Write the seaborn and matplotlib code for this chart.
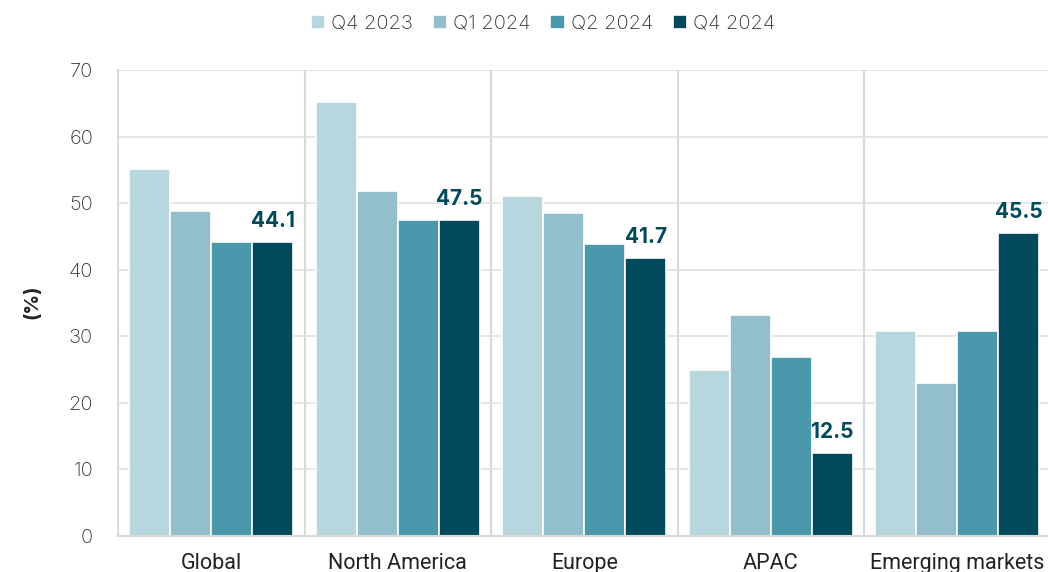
import matplotlib
matplotlib.use("Agg")
import matplotlib.pyplot as plt
import pandas as pd
import seaborn as sns
from matplotlib.font_manager import fontManager

regions = ["Global", "North America", "Europe", "APAC", "Emerging markets"]
quarters = ["Q4 2023", "Q1 2024", "Q2 2024", "Q4 2024"]
q4_2023 = [55.1, 65.2, 51.1, 24.9, 30.8]
q1_2024 = [48.8, 51.8, 48.5, 33.2, 23.0]
q2_2024 = [44.2, 47.5, 43.9, 26.9, 30.8]
q4_2024 = [44.1, 47.5, 41.7, 12.5, 45.5]
palette = ["#b8d6de", "#93bfcc", "#4b97ab", "#024a5b"]

rows = []
for quarter, values in zip(quarters, [q4_2023, q1_2024, q2_2024, q4_2024]):
    for region, value in zip(regions, values):
        rows.append({"region": region, "quarter": quarter, "value": value})
frame = pd.DataFrame(rows)

sns.set_theme(style="white")
plt.rcParams["font.family"] = ["Inter", "DejaVu Sans"]

names = {f.name for f in fontManager.ttflist}
narrow = "Liberation Sans Narrow" if "Liberation Sans Narrow" in names else "Roboto"

fig = plt.figure(figsize=(10.48, 5.72), dpi=100)
ax = fig.add_axes([0.1126, 0.0629, 0.8898, 0.8147])

ax.yaxis.grid(True, color="#e0e0e0", linewidth=1.2)
ax.set_axisbelow(True)
for x in range(len(regions) - 1):
    ax.axvline(x + 0.5, color="#d9d9d9", linewidth=1.5, zorder=0)

sns.barplot(
    data=frame,
    x="region",
    y="value",
    hue="quarter",
    palette=palette,
    width=0.88,
    edgecolor="white",
    linewidth=1.2,
    saturation=1,
    ax=ax,
)

ax.set_xlim(-0.5, 4.5)
ax.set_ylim(0, 70)
ax.set_yticks(range(0, 71, 10))
ax.set_xlabel("")
ax.set_ylabel("")
fig.text(0.031, 0.472, "(%)", rotation=90, ha="center", va="center",
         fontsize=14, fontweight="bold", color="#222222")
ax.tick_params(axis="y", labelsize=14.5, labelcolor="#333333", pad=18, length=0)
ax.tick_params(axis="x", labelsize=15.5, labelcolor="#222222", pad=12, length=0)
for label in ax.get_xticklabels():
    label.set_fontfamily(narrow)
for label in ax.get_yticklabels():
    label.set_fontweight("light")

for side in ["top", "right"]:
    ax.spines[side].set_visible(False)
for side in ["left", "bottom"]:
    ax.spines[side].set_color("#d9d9d9")
    ax.spines[side].set_linewidth(1.5)

# value labels on the latest quarter only
last = ax.containers[-1]
ax.bar_label(
    last,
    labels=[f"{v:.1f}" for v in q4_2024],
    padding=8,
    fontsize=15,
    fontweight="bold",
    color="#024a5b",
)

handles, labels = ax.get_legend_handles_labels()
ax.get_legend().remove()
fig.legend(
    handles,
    labels,
    loc="upper center",
    bbox_to_anchor=(0.518, 1.005),
    ncol=4,
    frameon=False,
    handlelength=0.7,
    handleheight=0.7,
    handletextpad=0.3,
    columnspacing=1.0,
    labelcolor="#333333",
    prop={"weight": "light", "size": 14.5},
)

fig.savefig("out.png", dpi=100)
